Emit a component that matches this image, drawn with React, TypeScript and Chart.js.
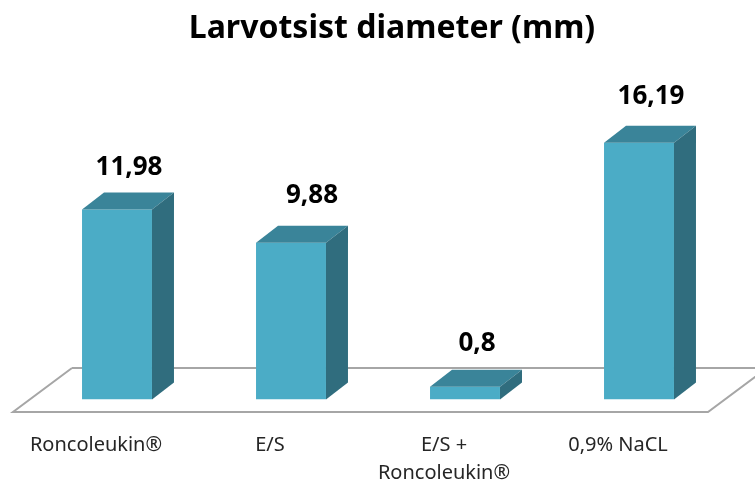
import React, { useEffect, useRef } from "react";
import { Chart, registerables } from "chart.js";

Chart.register(...registerables);

const titleText = "Larvotsist diameter (mm)";
const categories: (string | string[])[] = ["Roncoleukin®", "E/S", ["E/S +", "Roncoleukin®"], "0,9% NaCL"];
const values = [11.98, 9.88, 0.8, 16.19];
const valueLabels = ["11,98", "9,88", "0,8", "16,19"];
const labelShiftX = [12, 21, 12, 12];
const labelGapY = [42, 47, 43, 46];

const FRONT = "#4BACC6";
const TOP = "#3A8499";
const SIDE = "#306D7E";
const DX = 22;
const DY = 17;

const floorPlugin = {
  id: "floor3d",
  afterLayout(chart: any) {
    if (chart.titleBlock) {
      chart.titleBlock.left += 14;
      chart.titleBlock.right += 14;
    }
  },
  beforeDatasetsDraw(chart: any) {
    const { ctx, chartArea: a } = chart;
    ctx.save();
    ctx.strokeStyle = "#A6A6A6";
    ctx.lineWidth = 2;
    ctx.lineJoin = "miter";
    ctx.beginPath();
    ctx.moveTo(a.left + 42, a.bottom - 31.5);
    ctx.lineTo(a.left - 17, a.bottom + 12.5);
    ctx.lineTo(a.right - 18, a.bottom + 12.5);
    ctx.lineTo(a.right + 41, a.bottom - 31.5);
    ctx.moveTo(a.left + 42, a.bottom - 31.5);
    ctx.lineTo(a.right + 41, a.bottom - 31.5);
    ctx.stroke();
    ctx.restore();
  },
};

const boxPlugin = {
  id: "box3d",
  afterDatasetsDraw(chart: any) {
    const { ctx } = chart;
    const bars = chart.getDatasetMeta(0).data;
    ctx.save();
    bars.forEach((bar: any, i: number) => {
      const left = bar.x - bar.width / 2;
      const right = bar.x + bar.width / 2;
      const top = bar.y;
      const bottom = bar.base;
      ctx.fillStyle = TOP;
      ctx.beginPath();
      ctx.moveTo(left, top);
      ctx.lineTo(left + DX, top - DY);
      ctx.lineTo(right + DX, top - DY);
      ctx.lineTo(right, top);
      ctx.closePath();
      ctx.fill();
      ctx.fillStyle = SIDE;
      ctx.beginPath();
      ctx.moveTo(right, top);
      ctx.lineTo(right + DX, top - DY);
      ctx.lineTo(right + DX, bottom - DY);
      ctx.lineTo(right, bottom);
      ctx.closePath();
      ctx.fill();
      ctx.fillStyle = "#000000";
      ctx.font = "bold 26px 'Noto Sans'";
      ctx.textAlign = "center";
      ctx.textBaseline = "middle";
      ctx.fillText(valueLabels[i], bar.x + labelShiftX[i], top - labelGapY[i]);
    });
    ctx.restore();
  },
};

export default function App() {
  const ref = useRef<HTMLCanvasElement | null>(null);
  useEffect(() => {
    if (!ref.current) return;
    const chart = new Chart(ref.current, {
      type: "bar",
      data: {
        labels: categories,
        datasets: [
          {
            data: values,
            backgroundColor: FRONT,
            borderWidth: 0,
            barPercentage: 0.402,
            categoryPercentage: 1,
          },
        ],
      },
      options: {
        responsive: false,
        animation: false,
        layout: { padding: { left: 30, right: 29, top: 0, bottom: 0 } },
        plugins: {
          legend: { display: false },
          tooltip: { enabled: false },
          title: {
            display: true,
            text: titleText,
            color: "#000000",
            font: { family: "'Noto Sans'", size: 32, weight: "bold", lineHeight: 1.2 },
            padding: { top: 10, bottom: 65.6 },
          },
        },
        scales: {
          x: {
            grid: { display: false, drawTicks: false },
            border: { display: false },
            afterFit(scale: any) {
              scale.height = 83.5;
            },
            ticks: {
              color: "#262626",
              padding: 32,
              labelOffset: -21,
              maxRotation: 0,
              autoSkip: false,
              font: { family: "'Noto Sans'", size: 20, lineHeight: 1.4 },
            },
          },
          y: { display: false, min: 0, max: 18 },
        },
      },
      plugins: [floorPlugin, boxPlugin],
    } as any);
    return () => chart.destroy();
  }, []);
  return (
    <div style={{ position: "fixed", left: 0, top: 0, width: 755, height: 483, background: "#fff" }}>
      <canvas ref={ref} width={755} height={483} style={{ display: "block" }} />
    </div>
  );
}
